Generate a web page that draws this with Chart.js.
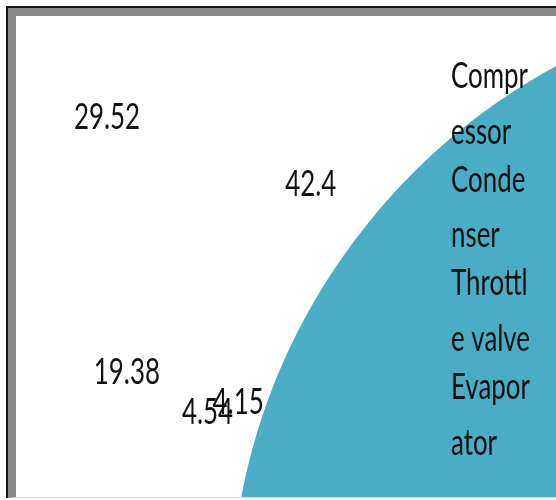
<!DOCTYPE html>
<html>
<head>
<meta charset="utf-8">
<script src="https://cdn.jsdelivr.net/npm/chart.js@4"></script>
<style>
  html, body { margin: 0; padding: 0; background: #fff; width: 556px; height: 500px; overflow: hidden; }
  #frame { position: absolute; left: 6px; top: 6px; width: 560px; height: 490px; border-left: 2px solid #111; border-top: 2px solid #111; }
  #band { position: absolute; left: 0; top: 0; right: 0; bottom: 0; border-left: 8px solid #888; border-top: 8px solid #888; border-bottom: 1px solid #ddd; }
  #clip { position: absolute; left: 16px; top: 16px; width: 540px; height: 481px; overflow: hidden; }
  #chart { position: absolute; left: -16px; top: -46px; }
</style>
</head>
<body>
<div id="frame"><div id="band"></div></div>
<div id="clip"><canvas id="chart" width="1482" height="1272"></canvas></div>
<script>
const categories = ['Compressor', 'Condenser', 'Throttle valve', 'Evaporator'];
const sliceValues = [42.4, 4.15, 4.54, 19.38, 29.52];
const valueLabels = ['42.4', '4.15', '4.54', '19.38', '29.52'];
const sliceColors = ['#4f81bd', '#c0504d', '#9bbb59', '#8064a2', '#4bacc6'];

const FONT = '37px Lato';
const SQUEEZE = 0.7;

function squeezedText(ctx, text, x, y) {
    ctx.save();
    ctx.translate(x, y);
    ctx.scale(SQUEEZE, 1);
    ctx.fillText(text, 0, 0);
    ctx.restore();
}

// value labels sit on a small ellipse, at each slice's mid angle
const valueText = {
    id: 'valueText',
    afterDatasetsDraw(chart, args, opts) {
        const ctx = chart.ctx;
        const arcs = chart.getDatasetMeta(0).data;
        ctx.save();
        ctx.font = FONT;
        ctx.fillStyle = '#111';
        ctx.textAlign = 'center';
        ctx.textBaseline = 'middle';
        arcs.forEach((arc, i) => {
            const mid = (arc.startAngle + arc.endAngle) / 2;
            squeezedText(ctx, valueLabels[i], opts.cx + opts.rx * Math.cos(mid), opts.cy + opts.ry * Math.sin(mid));
        });
        ctx.restore();
    }
};

// legend without swatches, wrapped by character like the original
const wrapLegend = {
    id: 'wrapLegend',
    afterDraw(chart, args, opts) {
        const ctx = chart.ctx;
        ctx.save();
        ctx.font = FONT;
        ctx.fillStyle = '#111';
        ctx.textAlign = 'left';
        ctx.textBaseline = 'alphabetic';
        chart.data.labels.forEach((label, k) => {
            const lines = [];
            let cur = '';
            for (const ch of label) {
                if (cur && ctx.measureText(cur + ch).width * SQUEEZE > opts.maxWidth) {
                    lines.push(cur);
                    cur = ch;
                } else cur += ch;
            }
            if (cur) lines.push(cur);
            lines.forEach((ln, j) => {
                squeezedText(ctx, ln, opts.x, opts.top + k * opts.itemGap + j * opts.lineGap);
            });
        });
        ctx.restore();
    }
};

new Chart(document.getElementById('chart'), {
    type: 'pie',
    data: {
        labels: categories,
        datasets: [{
            data: sliceValues,
            backgroundColor: sliceColors,
            borderColor: '#fff',
            borderWidth: 2
        }]
    },
    options: {
        responsive: false,
        animation: false,
        devicePixelRatio: 1,
        layout: { padding: { left: 228, top: 18, right: 0, bottom: 0 } },
        plugins: {
            legend: { display: false },
            tooltip: { enabled: false },
            valueText: { cx: 199, cy: 258, rx: 115, ry: 185 },
            wrapLegend: { x: 451, top: 118, itemGap: 103.7, lineGap: 55.5, maxWidth: 85 }
        }
    },
    plugins: [valueText, wrapLegend]
});
</script>
</body>
</html>
